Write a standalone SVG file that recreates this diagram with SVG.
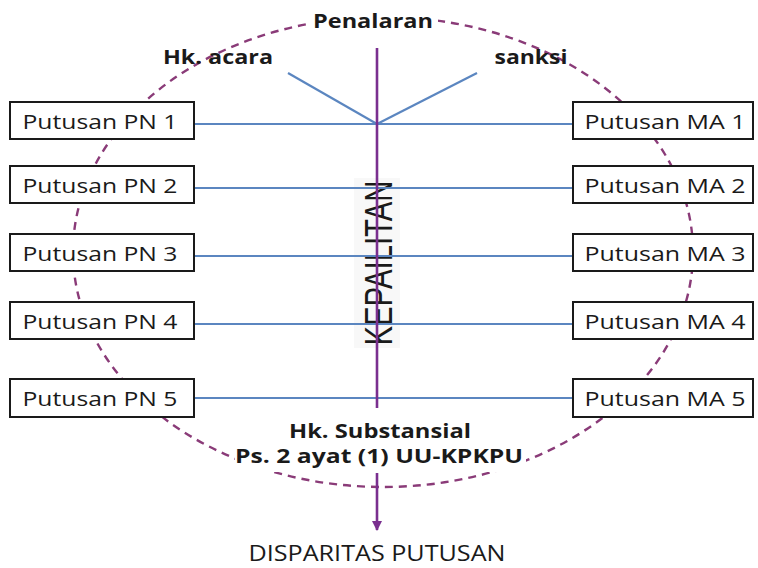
<svg xmlns="http://www.w3.org/2000/svg" width="758" height="568" viewBox="0 0 758 568">
  <style>
    .box { fill: #ffffff; stroke: #1a1a1a; stroke-width: 2; }
    .lbl { font-family: "Open Sans", "Liberation Sans", sans-serif; font-size: 20px; fill: #1a1a1a; }
    .bold { font-family: "Open Sans", "Liberation Sans", sans-serif; font-size: 19px; font-weight: bold; fill: #1a1a1a; }
    .big { font-size: 20px; }
    .axis-label { font-family: "Liberation Sans", "Open Sans", sans-serif; font-size: 38px; fill: #1a1a1a; }
    .foot { font-size: 21px; }
    .link { stroke: #5b86c0; stroke-width: 2.2; fill: none; }
    .axis { stroke: #7a2f8f; stroke-width: 2.6; fill: none; }
    .ring { stroke: #8a3b78; stroke-width: 2.4; fill: none; stroke-dasharray: 8 6; }
  </style>
  <defs>
    <marker id="arrow" viewBox="0 0 10 10" refX="9" refY="5" markerWidth="4" markerHeight="4" orient="auto" markerUnits="strokeWidth">
      <path d="M0,0 L10,5 L0,10 z" fill="#7a2f8f"/>
    </marker>
  </defs>
  <rect width="758" height="568" fill="#ffffff"/>

  <!-- dashed boundary ring -->
  <ellipse class="ring" cx="383" cy="252" rx="310" ry="235"/>

  <!-- white backing for ring labels -->
  <rect x="308" y="8" width="130" height="26" fill="#ffffff"/>
  <rect x="235" y="410" width="291" height="62" fill="#ffffff"/>

  <!-- vertical axis label -->
  <g id="kepailitan">
    <rect x="354" y="178" width="46" height="170" fill="#f8f8f8"/>
    <text class="axis-label" transform="translate(392,263) rotate(-90)" x="0" y="0" text-anchor="middle" textLength="165" lengthAdjust="spacingAndGlyphs">KEPAILITAN</text>
  </g>

  <!-- connectors -->
  <g id="connectors">
    <line class="link" x1="194" y1="124" x2="573" y2="124"/>
    <line class="link" x1="194" y1="188" x2="573" y2="188"/>
    <line class="link" x1="194" y1="256" x2="573" y2="256"/>
    <line class="link" x1="194" y1="324" x2="573" y2="324"/>
    <line class="link" x1="194" y1="398" x2="573" y2="398"/>
    <line class="link" x1="288" y1="73" x2="377" y2="124"/>
    <line class="link" x1="477" y1="73" x2="377" y2="124"/>
    <line class="axis" x1="377" y1="48" x2="377" y2="408"/>
    <line class="axis" x1="377" y1="473" x2="377" y2="530" marker-end="url(#arrow)"/>
  </g>

  <!-- top labels -->
  <g id="penalaran"><text class="bold" x="373" y="28" text-anchor="middle" textLength="120" lengthAdjust="spacingAndGlyphs">Penalaran</text></g>
  <g id="hk-acara"><text class="bold" x="218" y="64" text-anchor="middle" textLength="110" lengthAdjust="spacingAndGlyphs">Hk. acara</text></g>
  <g id="sanksi"><text class="bold" x="531" y="64" text-anchor="middle" textLength="73" lengthAdjust="spacingAndGlyphs">sanksi</text></g>

  <!-- PN decisions -->
  <g id="pn1"><rect class="box" x="10" y="102" width="184" height="37"/><text class="lbl" x="100" y="129" text-anchor="middle" textLength="155" lengthAdjust="spacingAndGlyphs">Putusan PN 1</text></g>
  <g id="pn2"><rect class="box" x="10" y="166" width="184" height="37"/><text class="lbl" x="100" y="193" text-anchor="middle" textLength="155" lengthAdjust="spacingAndGlyphs">Putusan PN 2</text></g>
  <g id="pn3"><rect class="box" x="10" y="234" width="184" height="37"/><text class="lbl" x="100" y="261" text-anchor="middle" textLength="155" lengthAdjust="spacingAndGlyphs">Putusan PN 3</text></g>
  <g id="pn4"><rect class="box" x="10" y="302" width="184" height="37"/><text class="lbl" x="100" y="329" text-anchor="middle" textLength="155" lengthAdjust="spacingAndGlyphs">Putusan PN 4</text></g>
  <g id="pn5"><rect class="box" x="10" y="379" width="184" height="38"/><text class="lbl" x="100" y="406" text-anchor="middle" textLength="155" lengthAdjust="spacingAndGlyphs">Putusan PN 5</text></g>

  <!-- MA decisions -->
  <g id="ma1"><rect class="box" x="573" y="102" width="180" height="37"/><text class="lbl" x="665" y="129" text-anchor="middle" textLength="161" lengthAdjust="spacingAndGlyphs">Putusan MA 1</text></g>
  <g id="ma2"><rect class="box" x="573" y="166" width="180" height="37"/><text class="lbl" x="665" y="193" text-anchor="middle" textLength="161" lengthAdjust="spacingAndGlyphs">Putusan MA 2</text></g>
  <g id="ma3"><rect class="box" x="573" y="234" width="180" height="37"/><text class="lbl" x="665" y="261" text-anchor="middle" textLength="161" lengthAdjust="spacingAndGlyphs">Putusan MA 3</text></g>
  <g id="ma4"><rect class="box" x="573" y="302" width="180" height="37"/><text class="lbl" x="665" y="329" text-anchor="middle" textLength="161" lengthAdjust="spacingAndGlyphs">Putusan MA 4</text></g>
  <g id="ma5"><rect class="box" x="573" y="379" width="180" height="38"/><text class="lbl" x="665" y="406" text-anchor="middle" textLength="161" lengthAdjust="spacingAndGlyphs">Putusan MA 5</text></g>

  <!-- substantive law note -->
  <g id="substansial">
    <text class="bold big" x="380" y="438" text-anchor="middle" textLength="182" lengthAdjust="spacingAndGlyphs">Hk. Substansial</text>
    <text class="bold big" x="379" y="463" text-anchor="middle" textLength="288" lengthAdjust="spacingAndGlyphs">Ps. 2 ayat (1) UU-KPKPU</text>
  </g>

  <!-- outcome -->
  <g id="disparitas"><text class="lbl foot" x="377" y="561" text-anchor="middle" textLength="257" lengthAdjust="spacingAndGlyphs">DISPARITAS PUTUSAN</text></g>
</svg>
